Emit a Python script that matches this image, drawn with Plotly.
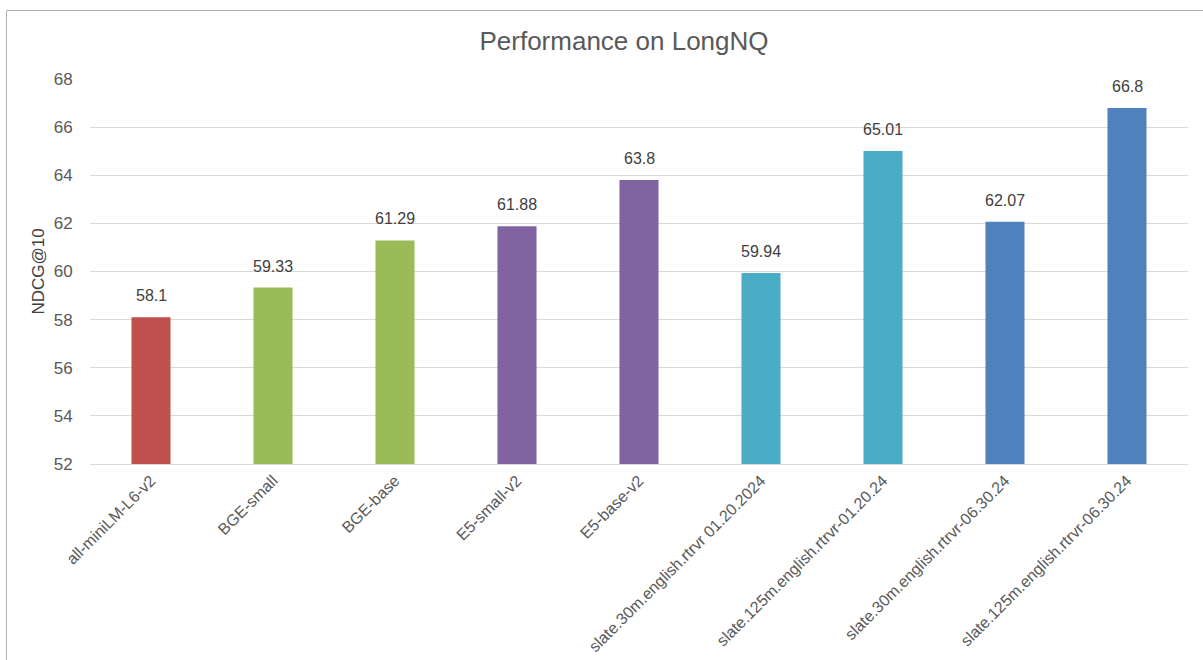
import plotly.graph_objects as go

models = ["all-miniLM-L6-v2", "BGE-small", "BGE-base", "E5-small-v2", "E5-base-v2",
          "slate.30m.english.rtrvr 01.20.2024", "slate.125m.english.rtrvr-01.20.24",
          "slate.30m.english.rtrvr-06.30.24", "slate.125m.english.rtrvr-06.30.24"]
ndcg = [58.1, 59.33, 61.29, 61.88, 63.8, 59.94, 65.01, 62.07, 66.8]
labels = ["58.1", "59.33", "61.29", "61.88", "63.8", "59.94", "65.01", "62.07", "66.8"]
colors = ["#C0504D", "#9BBB59", "#9BBB59", "#8064A2", "#8064A2",
          "#4BACC6", "#4BACC6", "#4F81BD", "#4F81BD"]
y_ticks = [52, 54, 56, 58, 60, 62, 64, 66, 68]

FONT = "Liberation Sans, Arial, Helvetica, sans-serif"

fig = go.Figure(go.Bar(
    x=models, y=ndcg, marker=dict(color=colors, line=dict(width=0)),
    width=0.32, hoverinfo="x+y",
))

for m, v, t in zip(models, ndcg, labels):
    fig.add_annotation(x=m, y=v, text=t, showarrow=False, yanchor="bottom",
                       yshift=11, font=dict(family=FONT, size=16, color="#404040"))

L, R, T, B = 90, 15, 79, 196
W, H = 1203, 660
pw, ph = W - L - R, H - T - B

fig.update_layout(
    width=W, height=H,
    margin=dict(l=L, r=R, t=T, b=B, pad=0, autoexpand=False),
    paper_bgcolor="white", plot_bgcolor="white",
    font=dict(family=FONT, color="#595959"),
    title=dict(text="Performance on LongNQ", x=624 / W, xanchor="center",
               y=1 - 41 / H, yanchor="middle",
               font=dict(family=FONT, size=26, color="#595959")),
    showlegend=False,
    xaxis=dict(tickangle=-45, tickfont=dict(size=16, color="#595959"),
               showgrid=False, showline=True, linecolor="#d9d9d9", linewidth=1,
               ticks="", automargin=False),
    yaxis=dict(range=[52, 68], tickvals=y_ticks, tickfont=dict(size=17, color="#595959"),
               showgrid=True, gridcolor="#d9d9d9", gridwidth=1, zeroline=False,
               ticks="outside", ticklen=13, tickcolor="rgba(0,0,0,0)", automargin=False,
               title=dict(text="NDCG@10", font=dict(size=17, color="#404040"), standoff=4)),
)

# outer chart frame (cropped at right and bottom in the reference)
fig.add_shape(type="rect", xref="paper", yref="paper",
              x0=(6.5 - L) / pw, x1=(W + 40 - L) / pw,
              y0=-(H + 40 - T - ph) / ph, y1=1 + (T - 10.5) / ph,
              line=dict(color="#b0b0b0", width=1), fillcolor="rgba(0,0,0,0)", layer="below")

fig.write_html("out.html")
